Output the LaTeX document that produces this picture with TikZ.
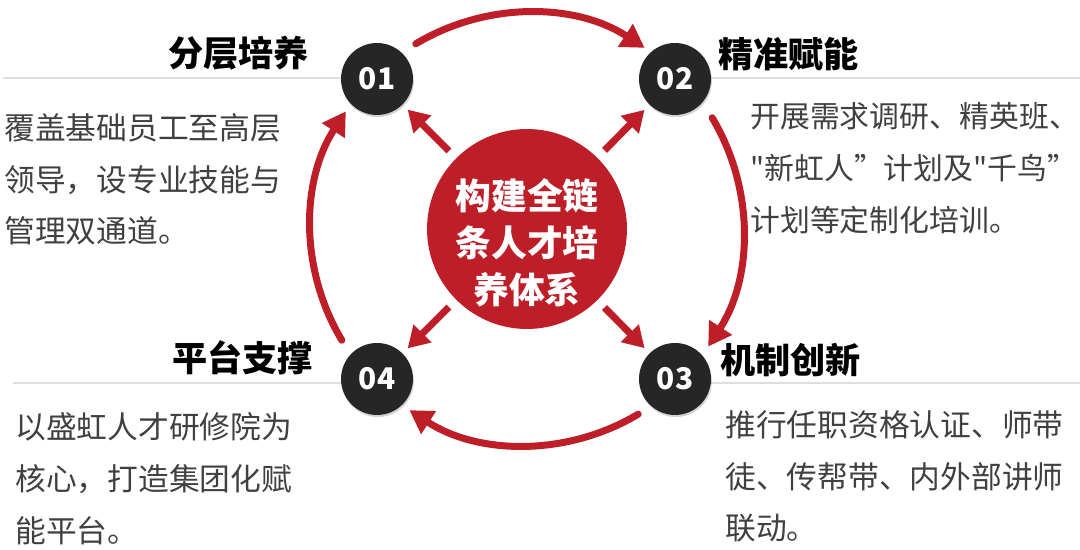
\documentclass[tikz,border=0pt]{standalone}
\usepackage{fontspec}
\setmainfont{Noto Sans CJK SC}[Ligatures=TeXOff]
\usetikzlibrary{positioning, arrows.meta, shadows, calc}

\definecolor{coreRed}{RGB}{190,30,40}
\definecolor{dotGray}{RGB}{38,38,38}
\definecolor{bodyGray}{RGB}{64,64,64}
\definecolor{ruleGray}{RGB}{222,222,222}

\begin{document}
\begin{tikzpicture}[
    x=0.02cm, y=0.02cm,
    core/.style={circle, fill=coreRed, minimum size=4cm, inner sep=0pt},
    corelbl/.style={text=white, align=center, inner sep=0pt,
                    font=\fontsize{20.4}{26.6}\selectfont\bfseries},
    dot/.style={circle, fill=dotGray, minimum size=1.44cm, inner sep=0pt,
                text=white, font=\fontsize{17}{20}\selectfont\bfseries,
                drop shadow={shadow xshift=0.5pt, shadow yshift=-1.2pt,
                             opacity=0.35}},
    title/.style={inner sep=0pt, text=black,
                  font=\fontsize{20}{24}\selectfont\bfseries},
    body/.style={inner sep=0pt, text=bodyGray, align=left, anchor=north west,
                 font=\fontsize{17.5}{29.5}\selectfont},
    ring/.style={draw=coreRed, line width=0.14cm, line cap=round,
                 -{Triangle[length=0.46cm, width=0.52cm]}},
    spoke/.style={draw=coreRed, line width=0.14cm,
                  -{Triangle[length=0.42cm, width=0.48cm]},
                  shorten <=0.2cm, shorten >=0.14cm},
    rule/.style={draw=ruleGray, line width=0.8pt}
]
\useasboundingbox (0,0) rectangle (1080,550);

%---------------- centre and the four steps ----------------
\node[core] (core) at (527,321) {};
\node[corelbl] (corelbl) at ($(core)+(0,-14)$) {构建全链\\条人才培\\养体系};

% rules behind the dots
\draw[rule] (377,472) -- (3,472);
\draw[rule] (675,472) -- (1080,472);
\draw[rule] (377,167) -- (13,167);
\draw[rule] (675,167) -- (1080,167);

\node[dot] (n1) at (377,471) {01};
\node[dot] (n2) at (675,471) {02};
\node[dot] (n3) at (675,171) {03};
\node[dot] (n4) at (377,171) {04};

%---------------- spokes ----------------
\foreach \n in {n1,n2,n3,n4}
    \draw[spoke] (core) -- (\n);

%---------------- outer ring ----------------
\draw[ring] ([shift={(121:216)}]core.center) arc[start angle=121, end angle=57, radius=216];
\draw[ring] ([shift={(31:216)}]core.center) arc[start angle=31, end angle=-33, radius=216];
\draw[ring] ([shift={(-59:216)}]core.center) arc[start angle=-59, end angle=-123, radius=216];
\draw[ring] ([shift={(211:216)}]core.center) arc[start angle=211, end angle=147, radius=216];

%---------------- titles ----------------
\node[title, anchor=east] (t1) at (309,497) {分层培养};
\node[title, anchor=west] (t2) at (718,496) {精准赋能};
\node[title, anchor=west] (t3) at (720,190) {机制创新};
\node[title, anchor=east] (t4) at (313,192) {平台支撑};

%---------------- texts ----------------
\node[body] (b1) at (4,437) {覆盖基础员工至高层\\领导，设专业技能与\\管理双通道。};
\node[body, font=\fontsize{17}{29.5}\selectfont] (b2) at (750,448)
    {开展需求调研、精英班、\\"新虹人”计划及"千鸟”\\计划等定制化培训。};
\node[body] (b3) at (725,140) {推行任职资格认证、师带\\徒、传帮带、内外部讲师\\联动。};
\node[body] (b4) at (15,138) {以盛虹人才研修院为\\核心，打造集团化赋\\能平台。};

\end{tikzpicture}
\end{document}
